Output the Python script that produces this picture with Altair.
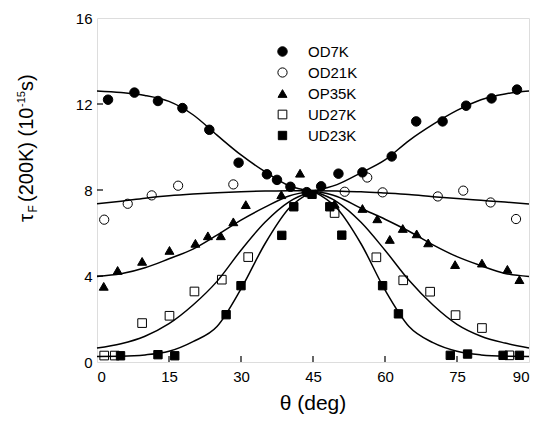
import altair as alt
import pandas as pd

SERIES = ["OD7K", "OD21K", "OP35K", "UD27K", "UD23K"]

# ---- measured points ----
od7k_x = [2.3, 7.8, 12.7, 17.8, 23.4, 29.5, 35.4, 37.5, 40.3, 43.7, 46.7, 50.3, 55.3, 61.4, 66.5, 72.0, 76.9, 82.2, 87.5]
od7k_y = [12.2, 12.53, 12.14, 11.81, 10.8, 9.27, 8.73, 8.47, 8.15, 7.9, 8.17, 8.76, 8.82, 9.56, 11.19, 11.19, 11.92, 12.26, 12.67]

od21k_x = [1.5, 6.4, 11.4, 16.9, 28.4, 51.6, 56.3, 59.5, 71.0, 76.3, 82.0, 87.3]
od21k_y = [6.62, 7.36, 7.75, 8.2, 8.26, 7.92, 8.58, 7.89, 7.7, 7.97, 7.42, 6.65]

op35k_x = [1.4, 4.3, 9.4, 15.1, 20.5, 23.1, 25.8, 28.4, 31.0, 38.4, 42.3, 49.5, 55.3, 58.4, 61.0, 63.7, 66.6, 69.0, 74.6, 80.2, 85.5, 88.0]
op35k_y = [3.52, 4.26, 4.68, 5.19, 5.52, 5.87, 5.87, 6.52, 7.32, 7.78, 8.78, 7.36, 7.14, 6.66, 5.7, 6.21, 5.96, 5.54, 4.53, 4.6, 4.31, 3.83]

ud27k_x = [1.5, 3.7, 9.4, 15.1, 20.3, 26.0, 31.5, 49.5, 58.2, 63.8, 69.4, 74.7, 80.2, 85.9]
ud27k_y = [0.3, 0.3, 1.81, 2.15, 3.28, 3.83, 4.88, 6.93, 4.87, 3.8, 3.27, 2.18, 1.58, 0.31]

ud23k_x = [4.9, 12.7, 16.2, 26.9, 30.0, 38.5, 41.0, 44.8, 48.5, 51.0, 59.5, 62.8, 73.6, 77.2, 84.6, 88.0]
ud23k_y = [0.29, 0.34, 0.29, 2.2, 3.55, 5.89, 7.22, 7.8, 7.22, 5.9, 3.55, 2.24, 0.31, 0.37, 0.31, 0.31]

# ---- fitted curves, every 5 degrees ----
fit_theta = [0, 5, 10, 15, 20, 25, 30, 35, 40, 45, 50, 55, 60, 65, 70, 75, 80, 85, 90]
od7k_fit = [12.6, 12.53, 12.4, 12.12, 11.5, 10.55, 9.63, 8.85, 8.2, 7.95, 8.25, 8.8, 9.4, 10.3, 11.05, 11.7, 12.2, 12.47, 12.6]
od21k_fit = [7.36, 7.48, 7.62, 7.73, 7.81, 7.87, 7.92, 7.95, 7.97, 7.97, 7.95, 7.92, 7.86, 7.79, 7.69, 7.6, 7.52, 7.44, 7.35]
op35k_fit = [3.98, 4.1, 4.38, 4.8, 5.25, 5.9, 6.6, 7.2, 7.72, 7.95, 7.7, 7.15, 6.64, 6.08, 5.45, 4.9, 4.48, 4.12, 3.98]
ud27k_fit = [0.65, 0.85, 1.2, 1.78, 2.65, 3.75, 5.2, 6.5, 7.45, 7.95, 7.45, 6.5, 5.2, 3.8, 2.65, 1.75, 1.2, 0.88, 0.65]
ud23k_fit = [0.26, 0.27, 0.33, 0.5, 0.95, 1.65, 3.4, 5.5, 7.15, 7.95, 7.15, 5.5, 3.35, 1.65, 0.9, 0.5, 0.33, 0.27, 0.26]

x_tick_values = [15, 30, 45, 60, 75]
y_tick_values = [4, 8, 12]
x_label_values = [0, 15, 30, 45, 60, 75, 90]
y_label_values = [0, 4, 8, 12, 16]

pts_src = {
    "OD7K": (od7k_x, od7k_y),
    "OD21K": (od21k_x, od21k_y),
    "OP35K": (op35k_x, op35k_y),
    "UD27K": (ud27k_x, ud27k_y),
    "UD23K": (ud23k_x, ud23k_y),
}
fit_src = {
    "OD7K": od7k_fit,
    "OD21K": od21k_fit,
    "OP35K": op35k_fit,
    "UD27K": ud27k_fit,
    "UD23K": ud23k_fit,
}

rows = []
for s in SERIES:
    xs, ys = pts_src[s]
    for a, b in zip(xs, ys):
        rows.append({"series": s, "theta": a, "tau": b})
points = pd.DataFrame(rows)

frows = []
for s in SERIES:
    for t, v in zip(fit_theta, fit_src[s]):
        if t <= 45:
            frows.append({"seg": s + "-L", "theta": t, "tau": v})
        if t >= 45:
            frows.append({"seg": s + "-R", "theta": t, "tau": v})
fits = pd.DataFrame(frows)

W, H = 432, 344
FONT = "Liberation Sans"

xscale = alt.Scale(domain=[0, 90], nice=False, zero=False)
yscale = alt.Scale(domain=[0, 16], nice=False)
xaxis = alt.Axis(values=x_label_values, title=None, grid=False, ticks=False, domain=False,
                 labelFontSize=15, labelPadding=7, labelFont=FONT, labelColor="black")
yaxis = alt.Axis(values=y_label_values, title=None, grid=False, ticks=False, domain=False,
                 labelFontSize=15, labelPadding=5, labelFont=FONT, labelColor="black")

X = alt.X("theta:Q", scale=xscale, axis=xaxis)
Y = alt.Y("tau:Q", scale=yscale, axis=yaxis)

lines = alt.Chart(fits).mark_line(color="black", strokeWidth=1.5, interpolate="monotone").encode(
    x=X, y=Y, detail="seg:N", order="theta:Q"
)

legend = alt.Legend(orient="none", legendX=178, legendY=26, title=None, padding=0,
                    labelFontSize=15, labelFont=FONT, labelColor="black", labelOffset=18,
                    rowPadding=5, symbolStrokeWidth=1, symbolOpacity=1)

pts = alt.Chart(points).mark_point(filled=True, strokeWidth=1, opacity=1).encode(
    x=X, y=Y,
    shape=alt.Shape("series:N", scale=alt.Scale(domain=SERIES, range=["circle", "circle", "triangle-up", "square", "square"]), legend=legend),
    fill=alt.Fill("series:N", scale=alt.Scale(domain=SERIES, range=["black", "transparent", "black", "transparent", "black"]), legend=legend),
    stroke=alt.Stroke("series:N", scale=alt.Scale(domain=SERIES, range=["black", "black", "black", "black", "black"]), legend=legend),
    size=alt.Size("series:N", scale=alt.Scale(domain=SERIES, range=[90, 70, 125, 52, 72]), legend=legend),
)

xt = alt.Chart(pd.DataFrame({"v": x_tick_values})).mark_rule(color="black", strokeWidth=1.2).encode(
    x=alt.X("v:Q", scale=xscale, axis=xaxis), y=alt.value(H), y2=alt.value(H - 6)
)
yt = alt.Chart(pd.DataFrame({"v": y_tick_values})).mark_rule(color="black", strokeWidth=1.2).encode(
    y=alt.Y("v:Q", scale=yscale, axis=yaxis), x=alt.value(0), x2=alt.value(6)
)

one = alt.Data(values=[{"k": 1}])


def label(txt, x, y, size, angle=0, align="left"):
    return alt.Chart(one).mark_text(text=txt, font=FONT, fontSize=size, angle=angle, align=align,
                                    baseline="alphabetic", color="black").encode(
        x=alt.value(x), y=alt.value(y))


xtitle = label("θ (deg)", 216, 392, 21, align="center")
yt1 = label("τ", -64.5, 204, 21, angle=270)
yt2 = label("F", -60.5, 194.5, 12, angle=270)
yt3 = label("(200K) (10", -64.5, 184, 20, angle=270)
yt4 = label("-15", -72, 89, 11, angle=270)
yt5 = label("s)", -64.5, 73, 20, angle=270)

chart = alt.layer(xt, yt, lines, pts, xtitle, yt1, yt2, yt3, yt4, yt5).properties(
    width=W, height=H,
    autosize=alt.AutoSizeParams(type="none"),
    padding={"left": 89, "top": 10, "right": 6, "bottom": 58},
).configure_view(stroke="black", strokeWidth=1.5).configure(font=FONT)

chart.save("out.html", embed_options={"renderer": "svg", "actions": False})
